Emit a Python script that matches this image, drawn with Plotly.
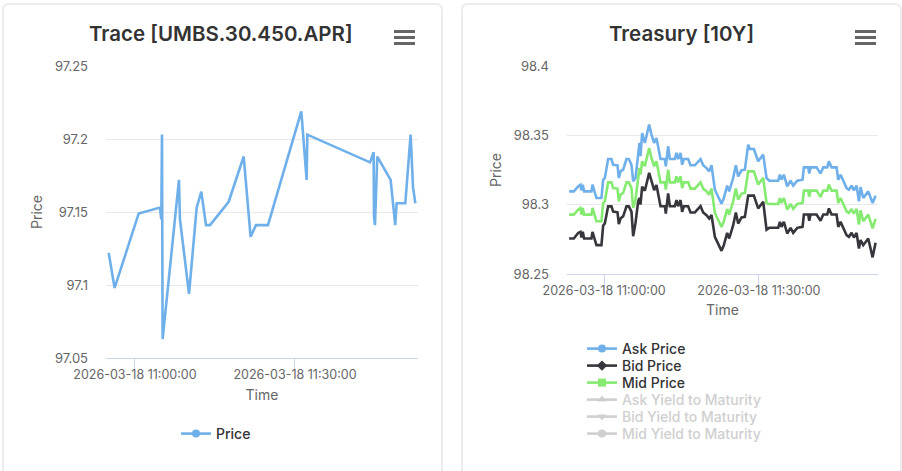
import pandas as pd
import plotly.graph_objects as go

W, H = 902, 471

# ---------- data: left chart ----------
trace_time = ["10:55:04","10:56:11","11:00:42","11:04:41","11:04:56","11:05:04","11:05:11","11:08:15",
              "11:08:26","11:10:08","11:11:34","11:12:26","11:13:19","11:14:04","11:17:34","11:20:23",
              "11:21:41","11:22:41","11:24:56","11:31:11","11:32:11","11:32:19","11:44:04","11:44:45",
              "11:44:49","11:45:00","11:45:26","11:47:56","11:48:48","11:49:04","11:50:41","11:51:41",
              "11:52:08","11:52:34"]
trace_price = [97.122,97.098,97.149,97.153,97.145,97.203,97.063,97.172,
               97.145,97.094,97.153,97.164,97.141,97.141,97.157,97.188,
               97.133,97.141,97.141,97.219,97.172,97.203,97.184,97.191,
               97.147,97.141,97.188,97.172,97.141,97.156,97.156,97.203,
               97.167,97.156]

# ---------- data: right chart (minutes after 11:00) ----------
tsy_minutes = [-6.79,-5.88,-5.04,-4.59,-4.40,-4.14,-3.88,-2.46,-2.26,-1.94,-1.49,-0.52,-0.19,0.13,0.78,
               1.42,1.75,2.59,2.85,3.17,3.69,4.33,4.78,5.30,5.63,6.08,6.60,6.85,7.05,7.37,
               7.89,8.73,9.18,9.70,10.15,10.93,11.77,11.96,12.41,12.74,13.71,14.03,14.35,14.81,15.13,
               15.45,16.29,16.75,17.59,18.69,19.20,19.85,20.37,20.82,21.47,22.11,22.76,23.21,23.86,24.25,
               25.02,25.54,25.99,26.64,27.29,27.93,28.26,29.03,29.87,30.84,31.49,32.01,33.75,34.08,34.40,
               34.85,35.50,36.15,36.66,37.44,38.47,38.73,39.57,39.77,40.02,41.19,41.96,42.48,43.26,43.58,
               44.10,45.07,45.39,45.84,47.01,47.46,47.98,48.43,48.95,49.40,49.72,50.24,51.21,52.05,52.63]
ask_price = [98.3096,98.3096,98.3132,98.3144,98.3103,98.3144,98.3096,98.3096,98.3144,98.3096,98.3048,98.3048,98.3180,98.3192,98.3329,
             98.3329,98.3288,98.3284,98.3192,98.3240,98.3252,98.3329,98.3329,98.3288,98.3168,98.3192,98.3361,98.3445,98.3349,98.3517,
             98.3445,98.3577,98.3505,98.3445,98.3481,98.3329,98.3329,98.3276,98.3421,98.3329,98.3329,98.3373,98.3329,98.3373,98.3288,
             98.3329,98.3329,98.3284,98.3284,98.3329,98.3284,98.3264,98.3240,98.3284,98.3108,98.3060,98.3007,98.3048,98.3137,98.3096,
             98.3192,98.3284,98.3204,98.3248,98.3252,98.3433,98.3401,98.3401,98.3313,98.3361,98.3192,98.3173,98.3173,98.3216,98.3180,
             98.3216,98.3132,98.3173,98.3137,98.3173,98.3180,98.3269,98.3269,98.3224,98.3269,98.3269,98.3224,98.3269,98.3269,98.3313,
             98.3269,98.3269,98.3180,98.3216,98.3120,98.3108,98.3137,98.3103,98.3137,98.3024,98.3127,98.3048,98.3096,98.3012,98.3065]
mid_price = [98.2928,98.2928,98.2964,98.2976,98.2928,98.2976,98.2928,98.2928,98.2976,98.2928,98.2880,98.2880,98.3012,98.3024,98.3161,
             98.3161,98.3120,98.3116,98.3024,98.3072,98.3084,98.3161,98.3161,98.3120,98.2976,98.3036,98.3193,98.3265,98.3217,98.3313,
             98.3277,98.3409,98.3337,98.3277,98.3313,98.3161,98.3161,98.3108,98.3253,98.3161,98.3161,98.3205,98.3161,98.3205,98.3120,
             98.3161,98.3161,98.3116,98.3116,98.3161,98.3116,98.3096,98.3072,98.3116,98.2940,98.2892,98.2839,98.2880,98.2969,98.2928,
             98.3024,98.3116,98.3036,98.3080,98.3084,98.3240,98.3240,98.3240,98.3145,98.3193,98.3012,98.3005,98.3005,98.3048,98.3012,
             98.3048,98.2964,98.3005,98.2969,98.3005,98.3012,98.3101,98.3101,98.3056,98.3101,98.3101,98.3056,98.3101,98.3101,98.3145,
             98.3101,98.3101,98.3012,98.3048,98.2952,98.2940,98.2969,98.2935,98.2969,98.2856,98.2959,98.2880,98.2928,98.2830,98.2897]
bid_price = [98.2756,98.2756,98.2796,98.2804,98.2763,98.2804,98.2756,98.2756,98.2804,98.2756,98.2708,98.2708,98.2849,98.2864,98.2988,
             98.2988,98.2950,98.2945,98.2860,98.2900,98.2916,98.2988,98.2988,98.2950,98.2772,98.2868,98.3024,98.3048,98.3000,98.3130,
             98.3100,98.3229,98.3165,98.3105,98.3141,98.2989,98.2989,98.2936,98.3081,98.2989,98.2989,98.3033,98.2989,98.3033,98.2948,
             98.2989,98.2989,98.2944,98.2944,98.2989,98.2944,98.2924,98.2900,98.2925,98.2768,98.2720,98.2667,98.2708,98.2797,98.2756,
             98.2852,98.2944,98.2864,98.2908,98.2912,98.3065,98.3065,98.3065,98.2973,98.3021,98.2820,98.2833,98.2833,98.2876,98.2840,
             98.2876,98.2792,98.2833,98.2797,98.2833,98.2840,98.2929,98.2929,98.2884,98.2929,98.2929,98.2884,98.2929,98.2929,98.2973,
             98.2929,98.2929,98.2840,98.2876,98.2780,98.2768,98.2797,98.2763,98.2797,98.2684,98.2745,98.2708,98.2756,98.2620,98.2725]

left_yticks = [97.05, 97.1, 97.15, 97.2, 97.25]
left_ylabels = ["97.05", "97.1", "97.15", "97.2", "97.25"]
right_yticks = [98.25, 98.3, 98.35, 98.4]
right_ylabels = ["98.25", "98.3", "98.35", "98.4"]
x_ticks = ["2026-03-18 11:00:00", "2026-03-18 11:30:00"]
hidden_names = ["Ask Yield to Maturity", "Bid Yield to Maturity", "Mid Yield to Maturity"]

# ---------- styles ----------
FONT = "Inter, 'Noto Sans', sans-serif"
BLUE, DARK, GREEN, GREY = "#6fb0ea", "#36363c", "#85ea70", "#cfcfcf"
TICK, AXIS, LINE = "#666666", "#ccd6eb", "#e9e9ec"
LW = 2.6

def px(x): return x / W
def py(y): return 1 - y / H

BASE = pd.Timestamp("2026-03-18 11:00:00")
t_left = ["2026-03-18 " + t for t in trace_time]
t_right = [BASE + pd.Timedelta(minutes=m) for m in tsy_minutes]

fig = go.Figure()

def add_series(x, y, name, color, symbol, xa, ya, leg, size=8):
    fig.add_trace(go.Scatter(x=x, y=y, mode="lines", name=name, showlegend=False, legendgroup=name,
                             line=dict(color=color, width=LW), xaxis=xa, yaxis=ya, legend=leg))
    fig.add_trace(go.Scatter(x=[None], y=[None], mode="lines+markers", name=name, legendgroup=name,
                             line=dict(color=color, width=LW),
                             marker=dict(color=color, symbol=symbol, size=size),
                             xaxis=xa, yaxis=ya, legend=leg))

add_series(t_left, trace_price, "Price", BLUE, "circle", "x", "y", "legend")
add_series(t_right, ask_price, "Ask Price", BLUE, "circle", "x2", "y2", "legend2")
add_series(t_right, bid_price, "Bid Price", DARK, "diamond", "x2", "y2", "legend3")
add_series(t_right, mid_price, "Mid Price", GREEN, "square", "x2", "y2", "legend4")
for i, (nm, sym) in enumerate(zip(hidden_names, ["triangle-up", "triangle-down", "circle"])):
    fig.add_trace(go.Scatter(x=[None], y=[None], mode="lines+markers",
                             name=f'<span style="color:{GREY}">{nm}</span>',
                             line=dict(color=GREY, width=LW),
                             marker=dict(color=GREY, symbol=sym, size=8),
                             xaxis="x2", yaxis="y2", legend=f"legend{5 + i}"))

def xaxis(dom, rng, standoff, anchor):
    return dict(domain=[px(dom[0]), px(dom[1])], range=rng, type="date", tickmode="array", tickvals=x_ticks,
                ticktext=x_ticks, showgrid=False, showline=True, linecolor=AXIS, linewidth=1,
                ticks="outside", ticklen=10, tickcolor=AXIS, zeroline=False, anchor=anchor,
                ticklabelstandoff=-5,
                tickfont=dict(family=FONT, size=12.5, color=TICK),
                title=dict(text="Time", standoff=standoff, font=dict(family=FONT, size=14, color=TICK)))

def yaxis(dom, rng, vals, labs, anchor, standoff):
    return dict(domain=[py(dom[1]), py(dom[0])], range=rng, tickmode="array", tickvals=vals, ticktext=labs,
                showgrid=True, gridcolor=LINE, gridwidth=1, zeroline=False, showline=False, ticks="",
                ticklabelstandoff=17, anchor=anchor,
                tickfont=dict(family=FONT, size=13, color=TICK),
                title=dict(text="Price", standoff=standoff, font=dict(family=FONT, size=14, color=TICK)))

def rounded(x0, y0, x1, y1, r=6):
    X = lambda v: f"{px(v):.5f}"
    Y = lambda v: f"{py(v):.5f}"
    return (f"M {X(x0)} {Y(y1)} L {X(x0)} {Y(y0+r)} Q {X(x0)} {Y(y0)} {X(x0+r)} {Y(y0)} "
            f"L {X(x1-r)} {Y(y0)} Q {X(x1)} {Y(y0)} {X(x1)} {Y(y0+r)} L {X(x1)} {Y(y1)}")

shapes = []
for card in [(3, 4, 442, 480), (462, 4, 901, 480)]:
    shapes.append(dict(type="path", xref="paper", yref="paper", path=rounded(*card),
                       line=dict(color="#ececec", width=2), fillcolor="white", layer="below"))
for mx in [(394, 415), (855, 876)]:
    for my in [31.5, 37.5, 43.5]:
        shapes.append(dict(type="line", xref="paper", yref="paper", x0=px(mx[0]), x1=px(mx[1]),
                           y0=py(my), y1=py(my), line=dict(color="#666666", width=3)))

annotations = [
    dict(text=txt, x=px(cx), y=py(34), xref="paper", yref="paper", xanchor="center", yanchor="middle",
         showarrow=False, font=dict(family=FONT, size=20.5, color="#333333", weight=600))
    for txt, cx in [("Trace [UMBS.30.450.APR]", 221), ("Treasury [10Y]", 681)]
]

leg_font = dict(family=FONT, size=14, color="#333333", weight=500)

def leg(x, center_y):
    return dict(x=px(x), y=py(center_y - 15), xanchor="left", yanchor="top",
                bgcolor="rgba(0,0,0,0)", font=leg_font)

row_y = [348, 365, 382, 399, 416, 433]

fig.update_layout(
    width=W, height=H, margin=dict(l=0, r=0, t=0, b=0, autoexpand=False),
    paper_bgcolor="white", plot_bgcolor="rgba(0,0,0,0)",
    font=dict(family=FONT), shapes=shapes, annotations=annotations,
    xaxis=xaxis((106, 418), ["2026-03-18 10:54:34", "2026-03-18 11:53:04"], 9, "y"),
    yaxis=yaxis((66, 358), [97.05, 97.25], left_yticks, left_ylabels, "x", 8),
    xaxis2=xaxis((567, 878), ["2026-03-18 10:52:48", "2026-03-18 11:53:06"], 8, "y2"),
    yaxis2=yaxis((66, 274), [98.25, 98.4], right_yticks, right_ylabels, "x2", 8),
    legend=leg(176, 433),
    legend2=leg(582, row_y[0]), legend3=leg(582, row_y[1]), legend4=leg(582, row_y[2]),
    legend5=leg(582, row_y[3]), legend6=leg(582, row_y[4]), legend7=leg(582, row_y[5]),
)

fig.write_html("out.html", config=dict(displayModeBar=False),
               post_script="document.body.style.margin='0';document.body.style.overflow='hidden';")
